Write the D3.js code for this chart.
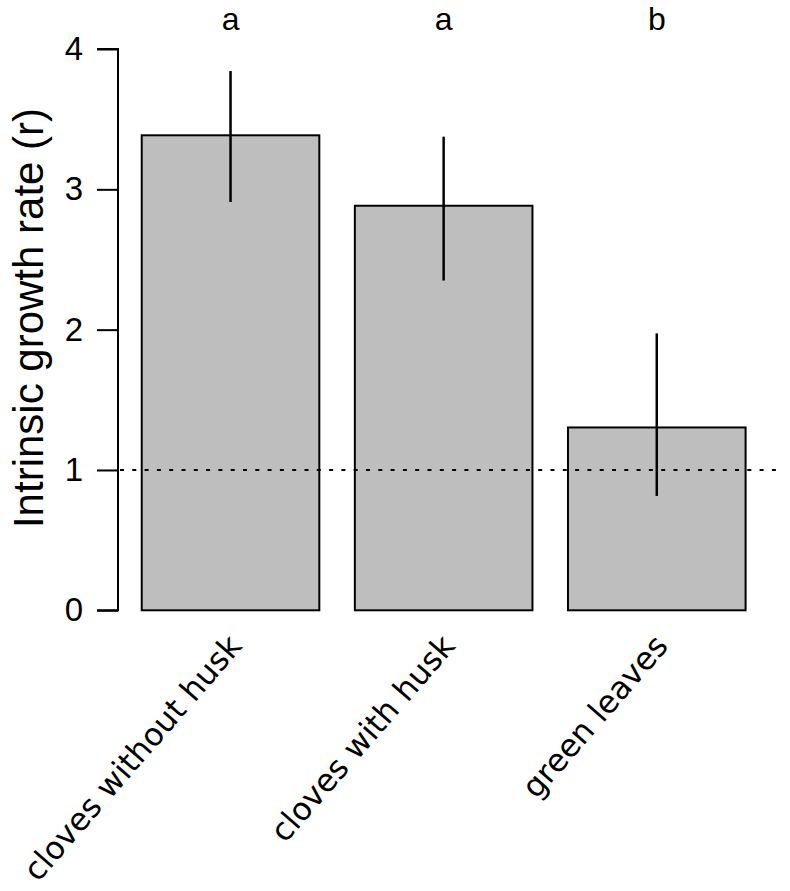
<!DOCTYPE html>
<html>
<head>
<meta charset="utf-8">
<script src="https://cdn.jsdelivr.net/npm/d3@7"></script>
<style>
  html, body { margin: 0; padding: 0; background: #fff; }
  svg { display: block; }
</style>
</head>
<body>
<script>
// ---- data ----
const categories = ["cloves without husk", "cloves with husk", "green leaves"];
const means = [3.385, 2.883, 1.303];
const errLow = [2.91, 2.35, 0.815];
const errHigh = [3.843, 3.375, 1.973];
const letters = ["a", "a", "b"];
const yTicks = [0, 1, 2, 3, 4];
const refLine = 1;
const yTitle = "Intrinsic growth rate (r)";

// ---- layout ----
const W = 790, H = 891;
const svg = d3.select("body").append("svg").attr("width", W).attr("height", H);

const x = d3.scaleBand().domain(categories).range([106.2, 781.1])
  .paddingInner(1/6).paddingOuter(1/6);
const y = d3.scaleLinear().domain([0, 4]).range([610.3, 49]);

const axisX = 118;
const sans = "'Liberation Sans', Arial, Helvetica, sans-serif";

// bars
svg.append("g").selectAll("rect").data(categories).join("rect")
  .attr("x", d => x(d))
  .attr("width", x.bandwidth())
  .attr("y", (d, i) => y(means[i]))
  .attr("height", (d, i) => y(0) - y(means[i]))
  .attr("fill", "#bebebe")
  .attr("stroke", "#000")
  .attr("stroke-width", 2);

// reference dotted line
svg.append("line")
  .attr("x1", axisX + 2).attr("x2", 784)
  .attr("y1", y(refLine)).attr("y2", y(refLine))
  .attr("stroke", "#000").attr("stroke-width", 2.2)
  .attr("stroke-dasharray", "4,8.3");

// error bars
svg.append("g").selectAll("line").data(categories).join("line")
  .attr("x1", d => x(d) + x.bandwidth() / 2)
  .attr("x2", d => x(d) + x.bandwidth() / 2)
  .attr("y1", (d, i) => y(errLow[i]))
  .attr("y2", (d, i) => y(errHigh[i]))
  .attr("stroke", "#000").attr("stroke-width", 2.5);

// y axis
const yAxis = d3.axisLeft(y).tickValues(yTicks).tickSize(21).tickPadding(14)
  .tickFormat(d3.format("d"));
const gy = svg.append("g").attr("transform", `translate(${axisX},0)`).call(yAxis);
gy.select(".domain").attr("d", `M-21,${y(4)}H0V${y(0)}H-21`).attr("stroke-width", 2).attr("fill", "none");
gy.selectAll(".tick line").attr("stroke-width", 2);
gy.selectAll(".tick text")
  .attr("font-family", sans)
  .attr("font-size", 33).attr("fill", "#000");

// y title
svg.append("text")
  .attr("transform", `translate(43, 318) rotate(-90)`)
  .attr("text-anchor", "middle")
  .attr("font-family", sans)
  .attr("font-size", 42)
  .text(yTitle);

// significance letters
svg.append("g").selectAll("text").data(categories).join("text")
  .attr("x", d => x(d) + x.bandwidth() / 2)
  .attr("y", 30)
  .attr("text-anchor", "middle")
  .attr("font-family", sans)
  .attr("font-size", 32)
  .text((d, i) => letters[i]);

// rotated category labels
svg.append("g").selectAll("text").data(categories).join("text")
  .attr("transform", d => `translate(${x(d) + x.bandwidth() / 2 + 6}, 641) rotate(-49)`)
  .attr("text-anchor", "end")
  .attr("dominant-baseline", "middle")
  .attr("font-family", "'DejaVu Sans', sans-serif")
  .attr("font-size", 31.5)
  .text(d => d);
</script>
</body>
</html>
